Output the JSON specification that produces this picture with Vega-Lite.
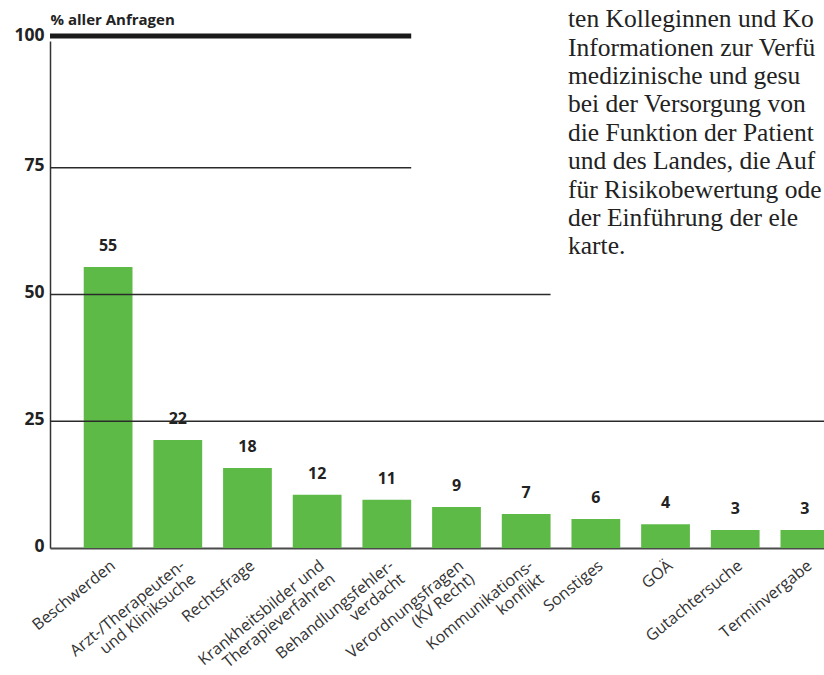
{
  "$schema": "https://vega.github.io/schema/vega-lite/v6.json",
  "width": 774,
  "height": 507,
  "autosize": {"type": "none"},
  "padding": {"left": 50, "top": 41, "right": 0, "bottom": 127},
  "background": "white",
  "config": {"view": {"stroke": null}, "font": "Open Sans"},
  "title": {
    "text": [
      "ten Kolleginnen und Ko",
      "Informationen zur Verfü",
      "medizinische und gesu",
      "bei der Versorgung von",
      "die Funktion der Patient",
      "und des Landes, die Auf",
      "für Risikobewertung ode",
      "der Einführung der ele",
      "karte."
    ],
    "orient": "top",
    "anchor": "start",
    "frame": "group",
    "align": "left",
    "baseline": "top",
    "dx": 518,
    "offset": -248,
    "font": "Liberation Serif",
    "fontSize": 25.5,
    "fontWeight": "normal",
    "lineHeight": 28.4,
    "color": "#222222"
  },
  "data": {
    "values": [
      {"category": "Beschwerden", "value": 55.4, "label": "55"},
      {"category": "Arzt-/Therapeuten-|und Kliniksuche", "value": 21.3, "label": "22"},
      {"category": "Rechtsfrage", "value": 15.8, "label": "18"},
      {"category": "Krankheitsbilder und|Therapieverfahren", "value": 10.5, "label": "12"},
      {"category": "Behandlungsfehler-|verdacht", "value": 9.5, "label": "11"},
      {"category": "Verordnungsfragen|(KV Recht)", "value": 8.1, "label": "9"},
      {"category": "Kommunikations-|konflikt", "value": 6.7, "label": "7"},
      {"category": "Sonstiges", "value": 5.7, "label": "6"},
      {"category": "GOÄ", "value": 4.7, "label": "4"},
      {"category": "Gutachtersuche", "value": 3.55, "label": "3"},
      {"category": "Terminvergabe", "value": 3.55, "label": "3"}
    ]
  },
  "layer": [
    {
      "mark": {"type": "bar", "color": "#5eba47"},
      "encoding": {
        "x": {
          "field": "category",
          "type": "nominal",
          "sort": null,
          "scale": {"range": [0, 813], "paddingInner": 0.3, "paddingOuter": 0.484},
          "axis": {
            "title": null,
            "labelExpr": "split(datum.value, '|')",
            "labelFont": "Open Sans",
            "labelAngle": -39,
            "labelAlign": "right",
            "labelBaseline": "top",
            "labelFontSize": 16,
            "labelColor": "#333333",
            "labelLineHeight": 17,
            "labelPadding": 9,
            "labelOverlap": false,
            "labelLimit": 0,
            "ticks": false,
            "domainColor": "#4a4a4a",
            "domainWidth": 2
          }
        },
        "y": {
          "field": "value",
          "type": "quantitative",
          "scale": {"domain": [0, 100], "nice": false},
          "axis": {
            "values": [0, 25, 50, 75, 100],
            "grid": false,
            "ticks": false,
            "domainColor": "#333333",
            "domainWidth": 1.5,
            "labelFont": "Open Sans",
            "labelFontWeight": "bold",
            "labelFontSize": 17.5,
            "labelColor": "#222222",
            "labelPadding": 6,
            "labelOffset": {"condition": {"test": "datum.value === 100", "value": -6}, "value": -2},
            "title": "% aller Anfragen",
            "titleAngle": 0,
            "titleAlign": "left",
            "titleBaseline": "alphabetic",
            "titleX": 0,
            "titleY": -17,
            "titleFont": "Open Sans",
            "titleFontWeight": "bold",
            "titleFontSize": 15,
            "titleColor": "#222222"
          }
        }
      }
    },
    {
      "mark": {"type": "text", "baseline": "middle", "dy": -21, "font": "Open Sans", "fontWeight": "bold", "fontSize": 16, "color": "#222222"},
      "encoding": {
        "x": {"field": "category", "type": "nominal", "sort": null},
        "y": {"field": "value", "type": "quantitative"},
        "text": {"field": "label"}
      }
    },
    {
      "data": {
        "values": [
          {"level": 75, "end": "Behandlungsfehler-|verdacht"},
          {"level": 50, "end": "Kommunikations-|konflikt"},
          {"level": 25, "end": "Terminvergabe"}
        ]
      },
      "mark": {"type": "rule", "color": "#2a2a2a", "strokeWidth": 1.5},
      "encoding": {
        "x": {"field": "end", "type": "nominal", "sort": null, "bandPosition": 1},
        "x2": {"value": 0},
        "y": {"field": "level", "type": "quantitative"}
      }
    },
    {
      "data": {
        "values": [
          {"level": 100, "end": "Behandlungsfehler-|verdacht"}
        ]
      },
      "mark": {"type": "rule", "color": "#1a1a1a", "strokeWidth": 5, "yOffset": -5},
      "encoding": {
        "x": {"field": "end", "type": "nominal", "sort": null, "bandPosition": 1},
        "x2": {"value": 0},
        "y": {"field": "level", "type": "quantitative"}
      }
    }
  ]
}
